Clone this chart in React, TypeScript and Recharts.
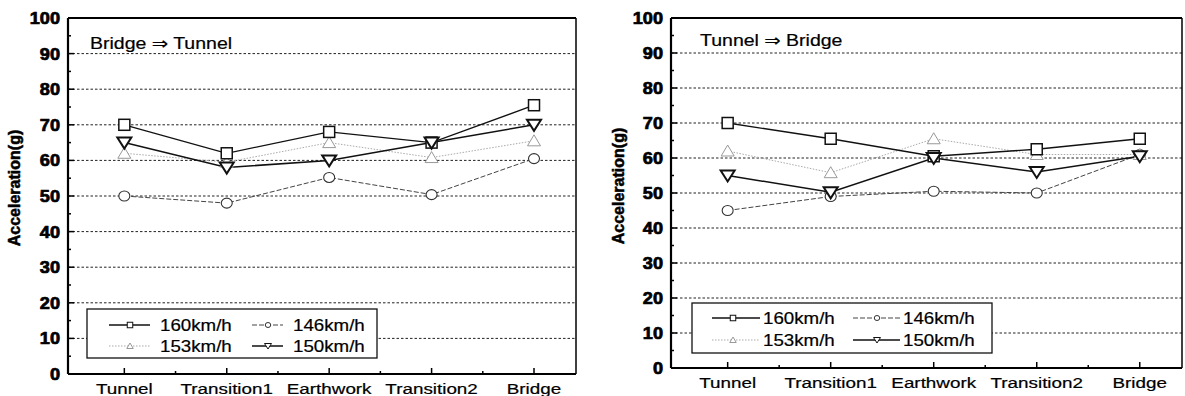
import { Line, LineChart, ReferenceLine, XAxis, YAxis } from 'recharts';

const categories = ['Tunnel', 'Transition1', 'Earthwork', 'Transition2', 'Bridge'];
const xTicks = [0, 0.5, 1, 1.5, 2, 2.5, 3, 3.5, 4];
const yTicks = [0, 5, 10, 15, 20, 25, 30, 35, 40, 45, 50, 55, 60, 65, 70, 75, 80, 85, 90, 95, 100];
const gridValues = [10, 20, 30, 40, 50, 60, 70, 80, 90];

// Bridge => Tunnel
const left160 = [70, 62, 68, 65, 75.5];
const left146 = [50, 48, 55.2, 50.4, 60.5];
const left153 = [62, 59.5, 65, 60.8, 65.5];
const left150 = [65, 58, 60, 65, 70];

// Tunnel => Bridge
const right160 = [70, 65.5, 60.5, 62.5, 65.5];
const right146 = [45, 49, 50.5, 50, 61];
const right153 = [62, 55.8, 65.5, 61, 61];
const right150 = [55, 50.2, 60, 56, 60.5];

type Shape = 'square' | 'circle' | 'up' | 'down';

const series: {
    key: string;
    name: string;
    stroke: string;
    width: number;
    dash?: string;
    shape: Shape;
    markStroke: string;
    markWidth: number;
}[] = [
    { key: 's146', name: '146km/h', stroke: '#444', width: 1, dash: '5 2', shape: 'circle', markStroke: '#333', markWidth: 1.1 },
    { key: 's153', name: '153km/h', stroke: '#aaa', width: 1, dash: '1.5 1.5', shape: 'up', markStroke: '#999', markWidth: 1 },
    { key: 's160', name: '160km/h', stroke: '#111', width: 1.3, shape: 'square', markStroke: '#111', markWidth: 1.5 },
    { key: 's150', name: '150km/h', stroke: '#111', width: 1.5, shape: 'down', markStroke: '#111', markWidth: 2 },
];

const FONT = '"Liberation Sans", Arial, "DejaVu Sans", sans-serif';

function Marker({ cx, cy, shape, stroke, sw, size = 1 }: { cx: number; cy: number; shape: Shape; stroke: string; sw: number; size?: number }) {
    if (cx == null || cy == null) return null;
    const s = size;
    if (shape === 'square') {
        return <rect x={cx - 5.5 * s} y={cy - 5.5 * s} width={11 * s} height={11 * s} fill="#fff" stroke={stroke} strokeWidth={sw} />;
    }
    if (shape === 'circle') {
        return <ellipse cx={cx} cy={cy} rx={5.5 * s} ry={5 * s} fill="#fff" stroke={stroke} strokeWidth={sw} />;
    }
    if (shape === 'up') {
        const p = `${cx},${cy - 6 * s} ${cx + 6.5 * s},${cy + 5 * s} ${cx - 6.5 * s},${cy + 5 * s}`;
        return <polygon points={p} fill="#fff" stroke={stroke} strokeWidth={sw} />;
    }
    const p = `${cx - 7 * s},${cy - 5 * s} ${cx + 7 * s},${cy - 5 * s} ${cx},${cy + 6 * s}`;
    return <polygon points={p} fill="#fff" stroke={stroke} strokeWidth={sw} />;
}

function XTick(props: any) {
    const { x, y, payload, labelDy } = props;
    const v = payload.value;
    const major = Math.abs(v - Math.round(v)) < 0.01;
    return (
        <g>
            <line x1={x} x2={x} y1={y} y2={y - (major ? 6 : 3)} stroke="#000" strokeWidth={1.5} />
            {major && (
                <text
                    transform={`translate(${x},${y + labelDy}) scale(1.3,1)`}
                    textAnchor="middle"
                    fontFamily={FONT}
                    fontSize={14.5}
                    fill="#000"
                    stroke="#000"
                    strokeWidth={0.2}
                >
                    {categories[Math.round(v)]}
                </text>
            )}
        </g>
    );
}

function YTick(props: any) {
    const { x, y, payload } = props;
    const v = payload.value;
    const major = v % 10 === 0;
    return (
        <g>
            <line x1={x} x2={x + (major ? 6 : 3)} y1={y} y2={y} stroke="#000" strokeWidth={1.5} />
            {major && (
                <text
                    transform={`translate(${x - 8},${y + 6}) scale(1.1,1)`}
                    textAnchor="end"
                    fontFamily={FONT}
                    fontWeight="bold"
                    fontSize={16.5}
                    fill="#000"
                    stroke="#000"
                    strokeWidth={0.7}
                >
                    {v}
                </text>
            )}
        </g>
    );
}

interface PanelProps {
    left: number;
    width: number;
    axisWidth: number;
    marginRight: number;
    xAxisHeight: number;
    labelDy: number;
    title: string;
    titleX: number;
    titleY: number;
    yLabelX: number;
    yLabelY: number;
    legend: { x0: number; y0: number; x1: number; y1: number; rows: number[]; cols: { lineA: number; lineB: number; mark: number; text: number }[] };
    values: Record<string, number[]>;
}

function Panel(p: PanelProps) {
    const data = categories.map((c, i) => {
        const row: Record<string, number | string> = { x: i, name: c };
        series.forEach((s) => {
            row[s.key] = p.values[s.key][i];
        });
        return row;
    });
    const legendOrder = [
        ['s160', 's146'],
        ['s153', 's150'],
    ];
    return (
        <div style={{ position: 'absolute', left: p.left, top: 0, width: p.width, height: 396 }}>
            <LineChart width={p.width} height={396} data={data} margin={{ top: 18, right: p.marginRight, bottom: 0, left: 0 }}>
                <XAxis
                    type="number"
                    dataKey="x"
                    domain={[-0.55, 4.41]}
                    allowDataOverflow
                    ticks={xTicks}
                    interval={0}
                    tickSize={0}
                    tickMargin={0}
                    tickLine={false}
                    height={p.xAxisHeight}
                    axisLine={{ stroke: '#000', strokeWidth: 2 }}
                    tick={<XTick labelDy={p.labelDy} />}
                />
                <YAxis
                    type="number"
                    domain={[0, 100]}
                    ticks={yTicks}
                    interval={0}
                    tickSize={0}
                    tickMargin={0}
                    tickLine={false}
                    width={p.axisWidth}
                    axisLine={{ stroke: '#000', strokeWidth: 2.2 }}
                    tick={<YTick />}
                />
                {gridValues.map((g) => (
                    <ReferenceLine key={g} y={g} stroke="#222" strokeWidth={1} strokeDasharray="2.5 2" />
                ))}
                <ReferenceLine y={100} stroke="#000" strokeWidth={2} />
                <ReferenceLine x={4.41} stroke="#000" strokeWidth={1.5} />
                {series.map((s) => (
                    <Line
                        key={s.key}
                        type="linear"
                        dataKey={s.key}
                        name={s.name}
                        stroke={s.stroke}
                        strokeWidth={s.width}
                        strokeDasharray={s.dash}
                        isAnimationActive={false}
                        activeDot={false}
                        dot={(d: any) => (
                            <Marker key={`${s.key}-${d.index}`} cx={d.cx} cy={d.cy} shape={s.shape} stroke={s.markStroke} sw={s.markWidth} />
                        )}
                    />
                ))}
            </LineChart>
            <svg width={p.width} height={396} style={{ position: 'absolute', left: 0, top: 0, pointerEvents: 'none' }}>
                <text
                    transform={`translate(${p.titleX},${p.titleY}) scale(1.22,1)`}
                    fontFamily={FONT}
                    fontSize={16}
                    fill="#000"
                    stroke="#000"
                    strokeWidth={0.2}
                >
                    {p.title}
                </text>
                <text
                    transform={`translate(${p.yLabelX},${p.yLabelY}) rotate(-90)`}
                    textAnchor="middle"
                    fontFamily={FONT}
                    fontWeight="bold"
                    fontSize={16}
                    fill="#000"
                    stroke="#000"
                    strokeWidth={0.5}
                >
                    Acceleration(g)
                </text>
                <rect
                    x={p.legend.x0}
                    y={p.legend.y0}
                    width={p.legend.x1 - p.legend.x0}
                    height={p.legend.y1 - p.legend.y0}
                    fill="#fff"
                    stroke="#111"
                    strokeWidth={1.3}
                />
                {legendOrder.map((row, ri) =>
                    row.map((key, ci) => {
                        const s = series.find((q) => q.key === key)!;
                        const c = p.legend.cols[ci];
                        const cy = p.legend.rows[ri];
                        return (
                            <g key={key}>
                                <line x1={c.lineA} x2={c.lineB} y1={cy} y2={cy} stroke={s.stroke} strokeWidth={s.width} strokeDasharray={s.dash} />
                                <Marker cx={c.mark} cy={cy} shape={s.shape} stroke={s.markStroke} sw={1} size={0.5} />
                                <text
                                    transform={`translate(${c.text},${cy + 6}) scale(1.17,1)`}
                                    fontFamily={FONT}
                                    fontSize={16}
                                    fill="#000"
                                    stroke="#000"
                                    strokeWidth={0.2}
                                >
                                    {s.name}
                                </text>
                            </g>
                        );
                    })
                )}
            </svg>
        </div>
    );
}

export default function App() {
    return (
        <div style={{ position: 'absolute', left: 0, top: 0, width: 1185, height: 396, background: '#fff' }}>
            <Panel
                left={0}
                width={590}
                axisWidth={68}
                marginRight={14}
                xAxisHeight={22}
                labelDy={20}
                title="Bridge ⇒ Tunnel"
                titleX={90}
                titleY={49}
                yLabelX={20}
                yLabelY={188}
                legend={{
                    x0: 87,
                    y0: 309,
                    x1: 377,
                    y1: 358,
                    rows: [325, 346],
                    cols: [
                        { lineA: 109, lineB: 150, mark: 130, text: 160 },
                        { lineA: 252, lineB: 283, mark: 268, text: 293 },
                    ],
                }}
                values={{ s160: left160, s146: left146, s153: left153, s150: left150 }}
            />
            <Panel
                left={590}
                width={595}
                axisWidth={81}
                marginRight={3}
                xAxisHeight={28}
                labelDy={20}
                title="Tunnel ⇒ Bridge"
                titleX={110}
                titleY={46}
                yLabelX={34}
                yLabelY={186}
                legend={{
                    x0: 102,
                    y0: 303,
                    x1: 402,
                    y1: 353,
                    rows: [318, 340],
                    cols: [
                        { lineA: 122, lineB: 170, mark: 143, text: 173 },
                        { lineA: 263, lineB: 310, mark: 287, text: 313 },
                    ],
                }}
                values={{ s160: right160, s146: right146, s153: right153, s150: right150 }}
            />
        </div>
    );
}
